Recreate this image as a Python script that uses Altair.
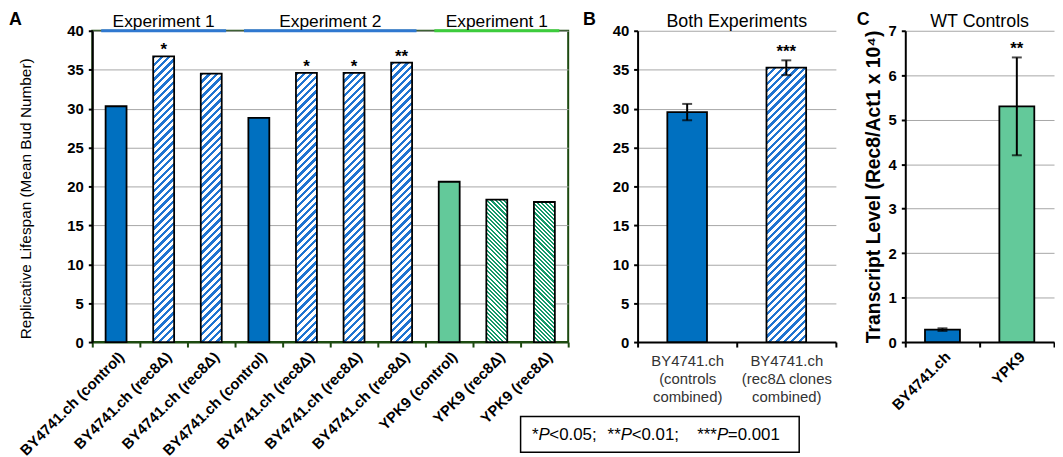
import json
import altair as alt

FONT = "Liberation Sans"

# ---------------- data ----------------
A_labels = ["BY4741.ch (control)", "BY4741.ch (rec8Δ)", "BY4741.ch (rec8Δ)",
            "BY4741.ch (control)", "BY4741.ch (rec8Δ)", "BY4741.ch (rec8Δ)",
            "BY4741.ch (rec8Δ)", "YPK9 (control)", "YPK9 (rec8Δ)", "YPK9 (rec8Δ)"]
A_values = [30.3, 36.7, 34.5, 28.8, 34.6, 34.6, 35.9, 20.6, 18.3, 18.0]
A_sig = ["", "*", "", "", "*", "*", "**", "", "", ""]
A_kind = ["blue_solid", "blue_hatch", "blue_hatch", "blue_solid", "blue_hatch",
          "blue_hatch", "blue_hatch", "green_solid", "green_hatch", "green_hatch"]
A_groups = ["Experiment 1", "Experiment 2", "Experiment 1"]
A_group_sizes = [3, 4, 3]
A_group_kind = ["blue", "blue", "green"]

B_labels = [["BY4741.ch", "(controls", "combined)"],
            ["BY4741.ch", "(rec8Δ clones", "combined)"]]
B_values = [29.55, 35.25]
B_err = [1.05, 0.95]
B_sig = ["", "***"]
B_kind = ["blue_solid", "blue_hatch"]

C_labels = ["BY4741.ch", "YPK9"]
C_values = [0.28, 5.3]
C_err = [0.03, 1.1]
C_sig = ["", "**"]
C_kind = ["blue_solid", "green_solid"]

LEGEND_STARS = ["*", "**", "***"]
LEGEND_TESTS = ["<0.05;", "<0.01;", "=0.001"]

# ---------------- style / layout ----------------
H = 314
WA, WB, WC = 480, 200, 150
SP = 70
BAND_A, BAND_B, BAND_C = 0.44, 0.40, 0.47
BLUE = "#0070c0"
BLUE_HATCH = "#1f74d1"
GREEN = "#63c99a"
GREEN_HATCH = "#15996a"
DKGREEN = "#1d4a10"
HDR_COLORS = {"blue": "#2f78d0", "green": "#3dcc3d"}
GRID = "#a6a6a6"


def hatch(w, h, color, period, frac, slant):
    span = w + h
    k = span / (w * w + h * h)
    a, b = w * k, h * k
    if slant == "/":
        x1, y1, x2, y2 = 0, 0, a, b
    else:
        x1, y1, x2, y2 = 0, 1, a, 1 - b
    tp = period / span
    stops = []
    t = 0.0
    while t < 1:
        t1 = min(t + frac * tp, 1.0)
        t2 = min(t + tp, 1.0)
        stops += [{"offset": round(t, 5), "color": color},
                  {"offset": round(t1, 5), "color": color},
                  {"offset": round(t1, 5), "color": "white"},
                  {"offset": round(t2, 5), "color": "white"}]
        t += tp
    return {"gradient": "linear", "x1": x1, "y1": y1, "x2": x2, "y2": y2, "stops": stops}


def paint(kind, w, h):
    if kind == "blue_solid":
        return BLUE
    if kind == "green_solid":
        return GREEN
    if kind == "blue_hatch":
        return hatch(w, h, BLUE_HATCH, 7.5, 0.45, "/")
    return hatch(w, h, GREEN_HATCH, 4.2, 0.5, "\\")


def ylen(v, top):
    return v / top * H


recA = [{"i": i, "v": v, "sig": s,
         "paint": paint(k, WA / len(A_values) * BAND_A, ylen(v, 40))}
        for i, (v, s, k) in enumerate(zip(A_values, A_sig, A_kind))]
recB = [{"i": i, "v": v, "e": e, "sig": s,
         "paint": paint(k, WB / len(B_values) * BAND_B, ylen(v, 40))}
        for i, (v, e, s, k) in enumerate(zip(B_values, B_err, B_sig, B_kind))]
recC = [{"i": i, "v": v, "e": e, "sig": s,
         "paint": paint(k, WC / len(C_values) * BAND_C, ylen(v, 7))}
        for i, (v, e, s, k) in enumerate(zip(C_values, C_err, C_sig, C_kind))]

hdr = []
start = 0
for name, n, kind in zip(A_groups, A_group_sizes, A_group_kind):
    hdr.append({"s": start, "e": start + n, "m": start + n / 2, "name": name,
                "c": HDR_COLORS[kind]})
    start += n


def y_axis(values, title=None, bold_title=False, title_pad=10, title_size=15, title_y=None):
    kw = dict(values=values, tickCount=len(values), labelOverlap=False, labelFontSize=15,
              labelFontWeight="bold", labelColor="black",
              labelPadding=5, tickSize=4, tickWidth=2, tickColor="black",
              domainColor="black", domainWidth=2, gridColor=GRID, gridWidth=1,
              grid=True)
    if title is None:
        kw["title"] = None
    else:
        kw.update(title=title, titleFontSize=title_size, titleColor="black",
                  titleFontWeight="bold" if bold_title else "normal",
                  titlePadding=title_pad)
        if title_y is not None:
            kw["titleY"] = title_y
    return alt.Axis(**kw)


def x_axis(label_expr, angle, bold, color, pad, line_height=None, label_color="black"):
    kw = dict(title=None, labelExpr=label_expr, labelAngle=angle, labelFontSize=15,
              labelFontWeight="bold" if bold else "normal", labelColor=label_color,
              labelPadding=pad, tickBand="extent", domainColor=color, domainWidth=2,
              tickColor=color, tickWidth=2, tickSize=5, grid=False, labelLimit=400,
              labelOverlap=False)
    if line_height:
        kw["labelLineHeight"] = line_height
    return alt.Axis(**kw)


band0 = alt.Scale(paddingInner=0, paddingOuter=0)


def letter(t, dx):
    return alt.Chart(alt.Data(values=[{"t": t}])).mark_text(
        align="left", baseline="top", fontSize=18, fontWeight="bold", color="black"
    ).encode(x=alt.value(dx), y=alt.value(-20), text="t:N")


def panel_title(t, w):
    return alt.Chart(alt.Data(values=[{"t": t}])).mark_text(
        align="center", baseline="alphabetic", fontSize=18, color="black"
    ).encode(x=alt.value(w / 2), y=alt.value(-4), text="t:N")


# ---------------- panel A ----------------
labA = json.dumps(A_labels, ensure_ascii=False) + "[datum.value]"
xA = alt.X("i:O", scale=band0, axis=x_axis(labA, -45, True, DKGREEN, 2))
axA = y_axis(list(range(0, 41, 5)), "Replicative Lifespan (Mean Bud Number)",
             False, 34, 15.5, H / 2 + 12)
scA = alt.Scale(domain=[0, 40], nice=False)
dA = alt.Data(values=recA)
barsA = alt.Chart(dA).mark_bar(width=alt.RelativeBandSize(band=BAND_A), stroke="black",
                               strokeWidth=1.8).encode(
    x=xA, y=alt.Y("v:Q", scale=scA, axis=axA), fill=alt.Fill("paint:N", scale=None))
starsA = alt.Chart(dA).mark_text(fontSize=17, fontWeight="bold", baseline="alphabetic",
                                 dy=-1, color="black").encode(
    x=xA, y=alt.Y("v:Q", scale=scA, axis=axA), text="sig:N")
innerA = alt.layer(barsA, starsA)

hscale = alt.Scale(domain=[0, sum(A_group_sizes)], nice=False, zero=False)
dH = alt.Data(values=hdr)
hrule = alt.Chart(dH).mark_rule(strokeWidth=3, xOffset=9, x2Offset=-9).encode(
    x=alt.X("s:Q", scale=hscale, axis=None), x2="e:Q",
    y=alt.Y(datum=40, scale=scA, axis=axA),
    color=alt.Color("c:N", scale=None))
htext = alt.Chart(dH).mark_text(fontSize=17.5, baseline="alphabetic", dy=-4,
                                color="black").encode(
    x=alt.X("m:Q", scale=hscale, axis=None), y=alt.Y(datum=40, scale=scA, axis=axA),
    text="name:N")

panelA = alt.layer(innerA, hrule, htext, letter("A", -84)).resolve_scale(
    x="independent").properties(
    width=WA, height=H, view=alt.ViewBackground(stroke=DKGREEN, strokeWidth=2))


# ---------------- panels B and C ----------------
def err_panel(recs, labels_expr, angle, bold, pad, lh, lab_color, ydom, yvals, ytitle,
              band, w, title, let, let_dx, extra=None):
    d = alt.Data(values=recs)
    x = alt.X("i:O", scale=band0,
              axis=x_axis(labels_expr, angle, bold, "black", pad, lh, lab_color))
    sc = alt.Scale(domain=ydom, nice=False)
    ax = y_axis(yvals, ytitle, True, 5, 19.5) if ytitle else y_axis(yvals)
    base = alt.Chart(d).transform_calculate(lo="datum.v - datum.e", hi="datum.v + datum.e")
    bars = base.mark_bar(width=alt.RelativeBandSize(band=band), stroke="black",
                         strokeWidth=1.8).encode(x=x, y=alt.Y("v:Q", scale=sc, axis=ax),
                                                 fill=alt.Fill("paint:N", scale=None))
    rule = base.mark_rule(strokeWidth=2, color="black").encode(
        x=x, y=alt.Y("lo:Q", scale=sc, axis=ax), y2="hi:Q")
    tlo = base.mark_tick(thickness=2, size=10, color="black").encode(
        x=x, y=alt.Y("lo:Q", scale=sc, axis=ax))
    thi = base.mark_tick(thickness=2, size=10, color="black").encode(
        x=x, y=alt.Y("hi:Q", scale=sc, axis=ax))
    stars = base.mark_text(fontSize=17, fontWeight="bold", baseline="alphabetic", dy=-3,
                           color="black").encode(
        x=x, y=alt.Y("hi:Q", scale=sc, axis=ax), text="sig:N")
    layers = [bars, rule, tlo, thi, stars, panel_title(title, w), letter(let, let_dx)]
    if extra:
        layers += extra
    return alt.layer(*layers).properties(width=w, height=H)


# significance key box (below panel B)
key_box = alt.Chart(alt.Data(values=[{"k": 0}])).mark_rect(
    fill="white", stroke="black", strokeWidth=1.5).encode(
    x=alt.value(-118), x2=alt.value(163), y=alt.value(389), y2=alt.value(425))
KEY_P_X = [-100, -17, 80]
key_layers = [key_box]
for st, tx, px in zip(LEGEND_STARS, LEGEND_TESTS, KEY_P_X):
    dk = alt.Data(values=[{"s": st, "p": "P", "t": tx}])
    key_layers.append(alt.Chart(dk).mark_text(align="right", baseline="alphabetic",
                                              fontSize=17, color="black").encode(
        x=alt.value(px), y=alt.value(413), text="s:N"))
    key_layers.append(alt.Chart(dk).mark_text(align="left", baseline="alphabetic",
                                              fontSize=17, fontStyle="italic",
                                              color="black").encode(
        x=alt.value(px), y=alt.value(413), text="p:N"))
    key_layers.append(alt.Chart(dk).mark_text(align="left", baseline="alphabetic",
                                              fontSize=17, color="black").encode(
        x=alt.value(px + 11), y=alt.value(413), text="t:N"))

labB = json.dumps(B_labels, ensure_ascii=False) + "[datum.value]"
panelB = err_panel(recB, labB, 0, False, 7, 18, "#333333", [0, 40], list(range(0, 41, 5)),
                   None, BAND_B, WB, "Both Experiments", "B", -55, key_layers)

labC = json.dumps(C_labels, ensure_ascii=False) + "[datum.value]"
panelC = err_panel(recC, labC, -45, True, 2, None, "black", [0, 7], list(range(0, 8)),
                   "Transcript Level (Rec8/Act1 x 10⁴)", BAND_C, WC, "WT Controls", "C", -49)

chart = alt.hconcat(panelA, panelB, panelC, spacing=SP, bounds="flush", padding=0).configure(
    font=FONT).configure_view(stroke=None)

chart.save("out.html", embed_options={"renderer": "svg", "actions": False})
